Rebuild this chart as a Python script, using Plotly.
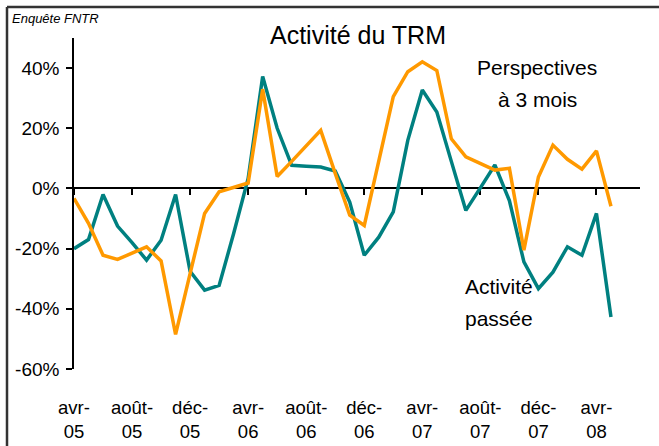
import plotly.graph_objects as go

months = ["avr-05", "mai-05", "juin-05", "juil-05", "août-05", "sept-05", "oct-05", "nov-05",
          "déc-05", "janv-06", "févr-06", "mars-06", "avr-06", "mai-06", "juin-06", "juil-06",
          "août-06", "sept-06", "oct-06", "nov-06", "déc-06", "janv-07", "févr-07", "mars-07",
          "avr-07", "mai-07", "juin-07", "juil-07", "août-07", "sept-07", "oct-07", "nov-07",
          "déc-07", "janv-08", "févr-08", "mars-08", "avr-08", "mai-08"]

activite_passee = [-20, -17, -2, -12.5, -18, -23.8, -17.2, -2, -27.5, -33.8, -32.2, -15,
                   3.3, 37.2, 20, 7.7, 7.4, 7.1, 5.8, -4.5, -22.2, -16.2, -7.8, 16,
                   32.7, 25.4, 9, -7.3, 0.2, 7.8, -4, -24.4, -33.3, -27.8, -19.4, -22.2,
                   -8.3, -42.7]

perspectives = [-3.3, -11.6, -22.2, -23.6, -21.5, -19.4, -24.1, -48.5, -28.3, -8.3, -1.1, 0.3,
                1.8, 33, 4, 9, 14, 19.3, 5, -8.9, -12.3, 9, 30.5, 38.8,
                42.1, 39.2, 16.5, 10.5, 8.3, 6.1, 6.7, -20.5, 3.8, 14.4, 9.7, 6.4,
                12.5, -5.9]

tick_months = months[::4]
tick_text = [m.replace("-", "-<br>") for m in tick_months]
y_ticks = [-60, -40, -20, 0, 20, 40]
y_tick_text = ["-60%", "-40%", "-20%", "0%", "20%", "40%"]

W, H = 659, 446
ML, MR, MT, MB = 74, 19, 38, 77
PW, PH = W - ML - MR, H - MT - MB

def px(x):
    return (x - ML) / PW

def py(y):
    return (H - MB - y) / PH

FONT = "Arial, Liberation Sans, sans-serif"
TEAL = "#008080"
ORANGE = "#FF9900"

fig = go.Figure()
fig.add_trace(go.Scatter(x=months, y=perspectives, mode="lines", xaxis="x2",
                         line=dict(color=ORANGE, width=3.5), name="Perspectives à 3 mois"))
fig.add_trace(go.Scatter(x=months, y=activite_passee, mode="lines",
                         line=dict(color=TEAL, width=3.5), name="Activité passée"))

fig.update_layout(
    width=W, height=H,
    margin=dict(l=ML, r=MR, t=MT, b=MB, pad=0, autoexpand=False),
    paper_bgcolor="white", plot_bgcolor="white",
    showlegend=False,
    font=dict(family=FONT, color="black", size=19),
    xaxis=dict(type="category", categoryorder="array", categoryarray=months,
               range=[0, 39], showline=False, showgrid=False, zeroline=False,
               ticks="", tickvals=tick_months, ticktext=tick_text, automargin=False,
               tickfont=dict(size=18.5), ticklabelstandoff=25, tickangle=0),
    xaxis2=dict(type="category", categoryorder="array", categoryarray=months,
                range=[0, 39], overlaying="x", anchor="free", position=60 / 110,
                showline=True, linecolor="black", linewidth=2, showgrid=False,
                zeroline=False, ticks="outside", ticklen=6, tickwidth=2, automargin=False,
                tickcolor="black", tickvals=tick_months, showticklabels=False,
                layer="below traces"),
    yaxis=dict(range=[-60, 50], showline=True, linecolor="black", linewidth=1.5,
               showgrid=False, zeroline=False, ticks="outside", ticklen=6, automargin=False,
               tickwidth=1.5, tickcolor="black", tickvals=y_ticks, ticktext=y_tick_text,
               tickfont=dict(size=19), ticklabelstandoff=3, layer="below traces"),
)

# outer frame (top and left borders visible in the reference)
fig.add_shape(type="line", xref="paper", yref="paper", x0=px(7), x1=px(W + 5),
              y0=py(7), y1=py(7), line=dict(color="#333333", width=2.5))
fig.add_shape(type="line", xref="paper", yref="paper", x0=px(7), x1=px(7),
              y0=py(7), y1=py(H + 5), line=dict(color="#333333", width=2.5))

def label(text, x, y, size):
    fig.add_annotation(text=text, xref="paper", yref="paper", x=px(x), y=py(y),
                       xanchor="center", yanchor="middle", showarrow=False,
                       font=dict(size=size, family=FONT, color="black"))

fig.add_annotation(text="Enquête FNTR", xref="paper", yref="paper", x=px(10), y=py(18),
                   xanchor="left", yanchor="middle", showarrow=False,
                   font=dict(size=13, family=FONT, color="black", style="italic"))
label("Activité du TRM", 358, 35, 25)
label("Perspectives", 537, 67, 21)
label("à 3 mois", 537, 99, 21)
label("Activité", 499, 286, 21)
label("passée", 499, 318, 21)

fig.write_html("out.html", config={"displayModeBar": False},
               post_script="document.body.style.margin='0px';document.body.style.overflow='hidden';")
